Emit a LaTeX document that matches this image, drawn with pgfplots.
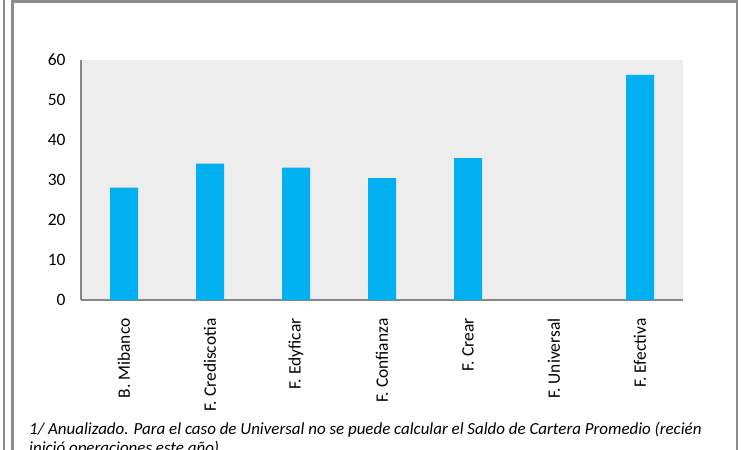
\documentclass[border=0pt]{standalone}
\usepackage{pgfplots}
\pgfplotsset{compat=1.18}
\usepackage{fontspec}
\setmainfont{Carlito}
\definecolor{barblue}{HTML}{00B0F0}
\definecolor{plotbg}{HTML}{EDEDED}
\definecolor{axisgray}{HTML}{878787}
\definecolor{framegray}{HTML}{8C8C8C}
\begin{document}
\begin{tikzpicture}[x=1bp,y=1bp]
  \path[use as bounding box] (0,0) rectangle (741,-450);
  \clip (0,0) rectangle (741,-450);
  \fill[white] (0,0) rectangle (741,-450);
  % frames
  \draw[framegray,line width=2bp] (4,0) -- (4,-450);
  \draw[framegray,line width=2.5bp] (12.5,-450) -- (12.5,-1.5) -- (737,-1.5) -- (737,-450);
  \begin{axis}[
      at={(81bp,-300bp)}, anchor=south west,
      scale only axis, width=602bp, height=240bp,
      xmin=-0.5, xmax=6.5, ymin=0, ymax=60,
      ytick={0,10,...,60},
      xtick={0,...,6},
      xticklabels={B. Mibanco, F. Crediscotia, F. Edyficar, F. Confianza, F. Crear, F. Universal, F. Efectiva},
      axis x line*=bottom, axis y line*=left,
      axis line style={axisgray, line width=1.3bp, -},
      major tick length=0pt,
      axis background/.style={fill=plotbg},
      tick label style={font=\fontsize{17.5}{20}\selectfont, black},
      xticklabel style={rotate=90, anchor=east},
      xticklabel shift=15bp,
      yticklabel shift=12bp,
      /pgf/number format/assume math mode=true,
      ybar, bar width=28bp,
    ]
    % F. Universal: sin dato
    \addplot[fill=barblue, draw=none] coordinates {
      (0,28.1) (1,34.1) (2,33.1) (3,30.5) (4,35.5) (6,56.3)};
  \end{axis}
  \begin{scope}[every node/.style={anchor=base west, font=\fontsize{17}{19}\selectfont\itshape, inner sep=0pt}]
    \node at (29,-434) {1/ Anualizado. Para el caso de Universal no se puede calcular el Saldo de Cartera Promedio (recién};
    \node at (29,-453) {inició operaciones este año) .};
  \end{scope}
\end{tikzpicture}
\end{document}
